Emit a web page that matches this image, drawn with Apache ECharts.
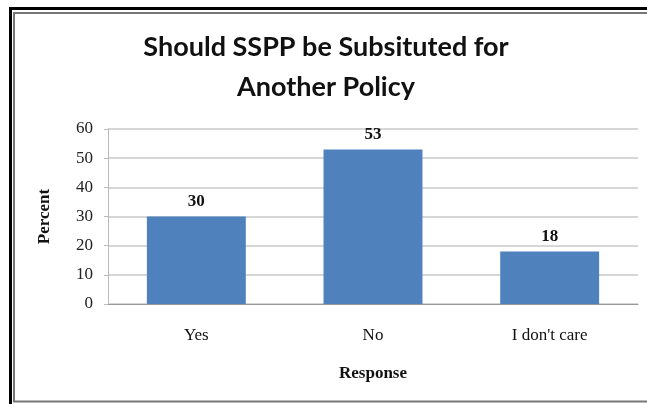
<!DOCTYPE html>
<html>
<head>
<meta charset="utf-8">
<script src="https://cdn.jsdelivr.net/npm/echarts@6/dist/echarts.min.js"></script>
<style>html,body{margin:0;padding:0;background:#fff}#c{width:647px;height:404px}</style>
</head>
<body>
<div id="c"></div>
<script>
const categories = ['Yes', 'No', "I don't care"];
const values = [30, 53, 18];
const yTicks = { min: 0, max: 60, interval: 10 };
const titleLines = ['Should SSPP be Subsituted for', 'Another Policy'];

const chart = echarts.init(document.getElementById('c'));
const serif = '"Liberation Serif", "Times New Roman", serif';
chart.setOption({
  animation: false,
  backgroundColor: '#fff',
  title: {
    text: titleLines.join('\n'),
    left: 321, top: 22, textAlign: 'center',
    textStyle: { fontFamily: 'Lato, "Open Sans", sans-serif', fontWeight: 'bold', fontSize: 27, lineHeight: 40, color: '#111' }
  },
  graphic: [
    { type: 'rect', shape: { x: 10.5, y: 8.5, width: 660, height: 420 }, style: { fill: 'none', stroke: '#000', lineWidth: 3 }, silent: true },
    { type: 'rect', shape: { x: 14, y: 13, width: 660, height: 388.5 }, style: { fill: 'none', stroke: '#777', lineWidth: 2 }, silent: true }
  ],
  grid: { left: 108, right: 9, top: 129, bottom: 100 },
  xAxis: {
    type: 'category', data: categories,
    name: 'Response', nameLocation: 'middle', nameGap: 61,
    nameTextStyle: { fontFamily: serif, fontWeight: 'bold', fontSize: 17, color: '#111' },
    axisLine: { lineStyle: { color: '#999', width: 1 } },
    axisTick: { show: false },
    axisLabel: { fontFamily: serif, fontSize: 17, color: '#111', margin: 23 }
  },
  yAxis: {
    type: 'value', min: yTicks.min, max: yTicks.max, interval: yTicks.interval,
    name: 'Percent', nameLocation: 'middle', nameGap: 55, nameRotate: 90,
    nameTextStyle: { fontFamily: serif, fontWeight: 'bold', fontSize: 17, color: '#111' },
    axisLine: { show: true, lineStyle: { color: '#bbb' } },
    axisTick: { show: true, length: 4, lineStyle: { color: '#bbb' } },
    splitLine: { lineStyle: { color: '#c8c8c8', width: 1.5 } },
    axisLabel: { fontFamily: serif, fontSize: 17, color: '#222', margin: 15 }
  },
  series: [{
    type: 'bar', data: values, barWidth: '56%',
    itemStyle: { color: '#4F81BD' },
    label: { show: true, position: 'top', distance: 6, fontFamily: serif, fontWeight: 'bold', fontSize: 17, color: '#111' }
  }]
});
</script>
</body>
</html>
